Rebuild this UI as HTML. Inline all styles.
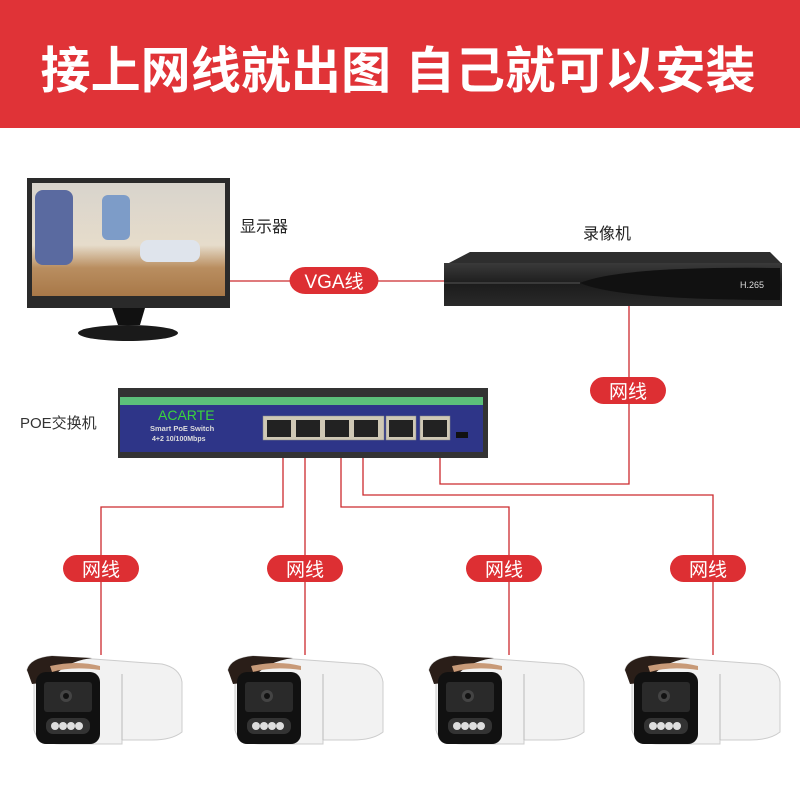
<!DOCTYPE html>
<html><head><meta charset="utf-8"><style>
html,body{margin:0;padding:0;background:#fff;}
svg{display:block;}
text{font-family:"Liberation Sans","Noto Sans CJK SC",sans-serif;}
</style></head><body>
<svg width="800" height="800" viewBox="0 0 800 800" xmlns="http://www.w3.org/2000/svg">
<defs>
<linearGradient id="nvr" x1="0" y1="0" x2="0" y2="1"><stop offset="0" stop-color="#3a3a3a"/><stop offset="0.5" stop-color="#1c1c1c"/><stop offset="1" stop-color="#2a2a2a"/></linearGradient>
<linearGradient id="scr" x1="0" y1="0" x2="0" y2="1"><stop offset="0" stop-color="#d8d4cc"/><stop offset="0.55" stop-color="#e6dccb"/><stop offset="0.75" stop-color="#b98e60"/><stop offset="1" stop-color="#a87848"/></linearGradient>
<g id="cam">
<path d="M5,18 Q8,6 30,4 L140,12 Q158,16 160,30 L160,80 Q150,88 130,88 L100,88 L100,92 L40,92 Q15,92 12,78 L12,30 Z" fill="#f2f2f2" stroke="#ccc" stroke-width="1"/>
<path d="M5,18 Q8,6 30,4 L70,6 Q40,10 28,30 L10,32 Z" fill="#2a1e18"/>
<path d="M28,14 Q55,8 78,14 L78,18 Q50,14 30,20 Z" fill="#c89a78"/>
<rect x="14" y="20" width="64" height="72" rx="10" fill="#111"/>
<rect x="22" y="30" width="48" height="30" rx="3" fill="#2a2a2a"/>
<circle cx="44" cy="44" r="6" fill="#444"/><circle cx="44" cy="44" r="3" fill="#111"/>
<rect x="24" y="66" width="44" height="16" rx="7" fill="#333"/>
<circle cx="33" cy="74" r="4" fill="#ddd"/><circle cx="41" cy="74" r="4" fill="#ddd"/><circle cx="49" cy="74" r="4" fill="#ddd"/><circle cx="57" cy="74" r="4" fill="#ddd"/>
<line x1="100" y1="22" x2="100" y2="88" stroke="#bbb"/>
</g>
<g id="pill"><rect x="-38" y="-14" width="76" height="27" rx="13.5" fill="#dd2f33"/></g>
</defs>
<rect x="0" y="0" width="800" height="128" fill="#e03337"/>
<text x="398" y="88" font-size="50" font-weight="bold" fill="#fff" text-anchor="middle" textLength="715" lengthAdjust="spacingAndGlyphs">接上网线就出图 自己就可以安装</text>

<g stroke="#cc2a2e" stroke-width="1.3" fill="none">
<line x1="230" y1="281" x2="444" y2="281"/>
<polyline points="629,306 629,484 440,484 440,457"/>
<polyline points="283,457 283,507 101,507 101,655"/>
<line x1="305" y1="457" x2="305" y2="655"/>
<polyline points="341,457 341,507 509,507 509,655"/>
<polyline points="363,457 363,495 713,495 713,655"/>
</g>

<rect x="27" y="178" width="203" height="130" fill="#2a2a2a"/>
<rect x="32" y="183" width="193" height="113" fill="url(#scr)"/>
<rect x="35" y="190" width="38" height="75" rx="8" fill="#5a6aa0"/>
<rect x="102" y="195" width="28" height="45" rx="6" fill="#7d9cc8"/>
<rect x="140" y="240" width="60" height="22" rx="8" fill="#dfe4ec"/>
<path d="M112,308 L145,308 L140,325 L118,325 Z" fill="#111"/>
<ellipse cx="128" cy="333" rx="50" ry="8" fill="#1a1a1a"/>
<text x="240" y="232" font-size="16" fill="#222">显示器</text>
<g transform="translate(334,281)"><use href="#pill" transform="scale(1.17,1)"/></g>
<text x="334" y="288" font-size="19" fill="#fff" text-anchor="middle">VGA线</text>

<text x="583" y="239" font-size="16" fill="#222">录像机</text>
<path d="M447,264 L470,252 L770,252 L782,264 Z" fill="#2e2e2e"/>
<rect x="444" y="263" width="338" height="43" fill="url(#nvr)"/>
<line x1="444" y1="283" x2="580" y2="283" stroke="#555"/>
<path d="M580,283 Q620,266 780,268 L780,300 Q620,300 580,283 Z" fill="#111"/>
<text x="740" y="288" font-size="9" fill="#ddd">H.265</text>
<g transform="translate(628,391)"><use href="#pill"/></g>
<text x="628" y="398" font-size="19" fill="#fff" text-anchor="middle">网线</text>

<text x="20" y="428" font-size="15" fill="#333">POE交换机</text>
<rect x="118" y="388" width="370" height="70" fill="#333"/>
<rect x="120" y="397" width="363" height="8" fill="#5cc07a"/>
<rect x="120" y="405" width="363" height="47" fill="#2e3588"/>
<text x="158" y="420" font-size="14" fill="#3bd63b">ACARTE</text>
<text x="150" y="431" font-size="7.5" font-weight="bold" fill="#ddd">Smart PoE Switch</text>
<text x="152" y="441" font-size="7" font-weight="bold" fill="#ddd">4+2 10/100Mbps</text>
<g fill="#cfc8b5" stroke="#888" stroke-width="0.5">
<rect x="263" y="416" width="121" height="24"/>
<rect x="386" y="416" width="30" height="24"/>
<rect x="420" y="416" width="30" height="24"/>
</g>
<g fill="#222">
<rect x="267" y="420" width="24" height="17"/><rect x="296" y="420" width="24" height="17"/><rect x="325" y="420" width="24" height="17"/><rect x="354" y="420" width="24" height="17"/>
<rect x="389" y="420" width="24" height="17"/><rect x="423" y="420" width="24" height="17"/>
</g>
<rect x="456" y="432" width="12" height="6" fill="#111"/>

<g transform="translate(101,569)"><use href="#pill"/></g>
<g transform="translate(305,569)"><use href="#pill"/></g>
<g transform="translate(504,569)"><use href="#pill"/></g>
<g transform="translate(708,569)"><use href="#pill"/></g>
<g font-size="19" fill="#fff" text-anchor="middle">
<text x="101" y="576">网线</text><text x="305" y="576">网线</text><text x="504" y="576">网线</text><text x="708" y="576">网线</text>
</g>

<use href="#cam" x="22" y="652"/>
<use href="#cam" x="223" y="652"/>
<use href="#cam" x="424" y="652"/>
<use href="#cam" x="620" y="652"/>
</svg>
</body></html>
